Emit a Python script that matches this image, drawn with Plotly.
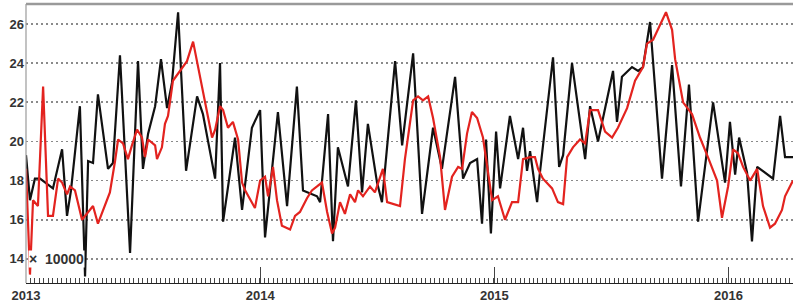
import pandas as pd
import plotly.graph_objects as go

# ---- data (decimal years, values in units of 10000) ----
black_t = [2013.000, 2013.017, 2013.038, 2013.060, 2013.115, 2013.154, 2013.175, 2013.192, 2013.230, 2013.252,
           2013.265, 2013.286, 2013.307, 2013.350, 2013.371, 2013.401, 2013.444, 2013.478, 2013.499, 2013.521,
           2013.551, 2013.576, 2013.602, 2013.623, 2013.649, 2013.683, 2013.730, 2013.755, 2013.807, 2013.828,
           2013.841, 2013.892, 2013.922, 2013.964, 2013.999, 2014.020, 2014.075, 2014.114, 2014.156, 2014.182,
           2014.242, 2014.255, 2014.289, 2014.310, 2014.331, 2014.374, 2014.408, 2014.434, 2014.459, 2014.498,
           2014.519, 2014.575, 2014.605, 2014.652, 2014.690, 2014.737, 2014.775, 2014.831, 2014.865, 2014.895,
           2014.925, 2014.946, 2014.963, 2014.984, 2015.006, 2015.023, 2015.065, 2015.100, 2015.121, 2015.138,
           2015.151, 2015.181, 2015.193, 2015.249, 2015.275, 2015.292, 2015.330, 2015.386, 2015.407, 2015.441,
           2015.505, 2015.522, 2015.543, 2015.586, 2015.612, 2015.633, 2015.663, 2015.714, 2015.757, 2015.795,
           2015.829, 2015.868, 2015.932, 2015.983, 2016.004, 2016.026, 2016.043, 2016.077, 2016.098, 2016.120,
           2016.188, 2016.218, 2016.239, 2016.273]
black_v = [19.3, 17.0, 18.1, 18.1, 17.6, 19.6, 16.2, 17.5, 21.8, 13.1,
           19.0, 18.9, 22.4, 18.6, 18.9, 24.4, 14.3, 24.1, 18.6, 20.4,
           21.8, 24.2, 21.7, 23.0, 26.6, 18.5, 22.3, 21.4, 18.1, 24.0,
           15.9, 20.2, 16.5, 20.7, 21.6, 15.1, 21.5, 16.7, 22.8, 17.5,
           17.2, 16.9, 21.4, 14.9, 19.7, 17.7, 22.1, 17.4, 20.9, 17.9,
           16.9, 24.1, 19.8, 24.5, 16.3, 20.7, 18.6, 23.3, 18.1, 18.9,
           19.1, 15.8, 20.1, 15.3, 20.5, 17.6, 21.3, 19.1, 20.7, 18.5,
           19.5, 16.9, 18.4, 24.3, 18.7, 19.3, 24.0, 19.1, 21.8, 20.0,
           23.6, 21.0, 23.3, 23.8, 23.6, 23.8, 26.1, 18.1, 23.9, 17.7,
           22.9, 15.9, 22.0, 17.9, 21.0, 18.3, 20.2, 18.4, 14.9, 18.7,
           18.1, 21.3, 19.2, 19.2]

red_t = [2013.000, 2013.017, 2013.030, 2013.051, 2013.073, 2013.094, 2013.115, 2013.137, 2013.154, 2013.175,
         2013.188, 2013.209, 2013.239, 2013.265, 2013.286, 2013.307, 2013.329, 2013.358, 2013.380, 2013.393,
         2013.414, 2013.435, 2013.452, 2013.474, 2013.495, 2013.508, 2013.521, 2013.551, 2013.559, 2013.580,
         2013.593, 2013.606, 2013.627, 2013.657, 2013.687, 2013.713, 2013.743, 2013.772, 2013.794, 2013.807,
         2013.828, 2013.841, 2013.862, 2013.883, 2013.905, 2013.922, 2013.935, 2013.977, 2013.999, 2014.020,
         2014.033, 2014.054, 2014.071, 2014.092, 2014.127, 2014.148, 2014.169, 2014.199, 2014.220, 2014.242,
         2014.263, 2014.285, 2014.306, 2014.319, 2014.340, 2014.361, 2014.383, 2014.404, 2014.417, 2014.438,
         2014.468, 2014.489, 2014.511, 2014.523, 2014.541, 2014.566, 2014.596, 2014.617, 2014.652, 2014.673,
         2014.694, 2014.716, 2014.737, 2014.767, 2014.788, 2014.818, 2014.844, 2014.861, 2014.882, 2014.903,
         2014.925, 2014.950, 2014.972, 2014.989, 2015.014, 2015.044, 2015.074, 2015.100, 2015.121, 2015.151,
         2015.172, 2015.185, 2015.206, 2015.245, 2015.270, 2015.292, 2015.309, 2015.334, 2015.364, 2015.386,
         2015.407, 2015.441, 2015.471, 2015.501, 2015.526, 2015.565, 2015.599, 2015.633, 2015.650, 2015.676,
         2015.731, 2015.757, 2015.770, 2015.804, 2015.842, 2015.876, 2015.910, 2015.949, 2015.970, 2015.996,
         2016.017, 2016.038, 2016.060, 2016.090, 2016.120, 2016.145, 2016.175, 2016.196, 2016.226, 2016.239,
         2016.260, 2016.273]
red_v = [18.6, 13.2, 17.0, 16.7, 22.8, 16.2, 16.2, 18.1, 17.9, 17.3,
         17.7, 17.5, 16.0, 16.4, 16.7, 15.8, 16.5, 17.4, 19.0, 20.1,
         19.9, 19.1, 19.8, 20.6, 20.2, 19.2, 20.1, 19.8, 19.1, 19.7,
         20.9, 21.3, 23.1, 23.6, 24.1, 25.1, 23.3, 21.6, 20.2, 20.6,
         21.8, 21.6, 20.7, 21.0, 20.1, 17.9, 17.5, 16.6, 18.0, 18.2,
         17.2, 18.7, 17.0, 15.7, 15.5, 16.2, 16.4, 17.1, 17.5, 17.7,
         17.9, 16.4, 15.3, 15.6, 16.9, 16.3, 17.3, 16.9, 17.5, 17.2,
         17.7, 17.4, 18.2, 18.6, 16.9, 16.8, 16.7, 19.1, 22.1, 22.3,
         22.1, 22.3, 21.2, 19.2, 16.5, 18.2, 18.7, 18.6, 20.4, 21.5,
         21.2, 20.2, 18.4, 17.0, 17.2, 16.0, 16.9, 16.9, 19.1, 19.2,
         19.2, 18.6, 18.1, 17.6, 16.9, 16.8, 19.2, 19.7, 20.1, 19.9,
         21.6, 21.6, 20.5, 20.2, 20.7, 21.7, 23.1, 23.8, 25.0, 25.2,
         26.6, 25.7, 24.2, 22.0, 21.4, 20.2, 19.2, 18.0, 16.1, 17.7,
         19.6, 19.4, 18.7, 18.0, 18.6, 16.7, 15.6, 15.8, 16.5, 17.2,
         17.7, 18.0]

y_ticks = [14, 16, 18, 20, 22, 24, 26]
y_tick_text = ["14", "16", "18", "20", "22", "24", "26"]
unit_label = "×  10000"

BASE = pd.Timestamp("2013-01-01")


def to_dates(ts):
    return [BASE + pd.to_timedelta((t - 2013.0) * 365.25, unit="D") for t in ts]


x_start = BASE
x_end = to_dates([2016.273])[0]

fig = go.Figure()
fig.add_trace(go.Scatter(x=to_dates(black_t), y=black_v, mode="lines",
                         line=dict(color="#111111", width=2.2), showlegend=False))
fig.add_trace(go.Scatter(x=to_dates(red_t), y=red_v, mode="lines",
                         line=dict(color="#e3231f", width=2.2), showlegend=False))

tick_font = dict(family="Liberation Sans, Arial, sans-serif", size=13, color="#333333", weight="bold")

fig.update_layout(
    width=793, height=308,
    margin=dict(l=26, r=0, t=4, b=25),
    paper_bgcolor="white", plot_bgcolor="white",
    xaxis=dict(
        type="date", range=[x_start, x_end],
        showgrid=False, zeroline=False,
        showline=True, linecolor="#222222", linewidth=1,
        ticks="inside", ticklen=16, tickcolor="#444444", tickwidth=1,
        dtick="M12", tick0="2013-01-01", tickformat="%Y",
        tickfont=tick_font, ticklabelstandoff=0,
        minor=dict(ticks="inside", ticklen=5, tickcolor="#444444", tickwidth=1,
                   dtick=7 * 86400000, tick0="2013-01-01", showgrid=False),
    ),
    yaxis=dict(
        range=[12.77, 27.02],
        tickvals=y_ticks, ticktext=y_tick_text,
        showgrid=True, gridcolor="#8a8a8a", gridwidth=1.6, griddash="2px,3px",
        zeroline=False, showline=False, ticks="",
        tickfont=tick_font, ticklabelstandoff=1,
    ),
    shapes=[
        dict(type="line", xref="paper", yref="paper", x0=0, x1=1, y0=1, y1=1,
             line=dict(color="#9a9a9a", width=2.5)),
        dict(type="line", xref="paper", yref="paper", x0=0, x1=0, y0=0, y1=1,
             line=dict(color="#9a9a9a", width=1.2)),
    ],
    annotations=[
        dict(text=unit_label, xref="paper", yref="y", x=0.002, y=y_ticks[0],
             xanchor="left", yanchor="middle", showarrow=False,
             font=dict(family="Liberation Sans, Arial, sans-serif", size=14, color="#333333", weight="bold"),
             bgcolor="white", borderpad=0),
    ],
)

fig.write_html("out.html", config={"displayModeBar": False, "staticPlot": True},
               post_script="document.body.style.margin='0px';document.body.style.overflow='hidden';")
